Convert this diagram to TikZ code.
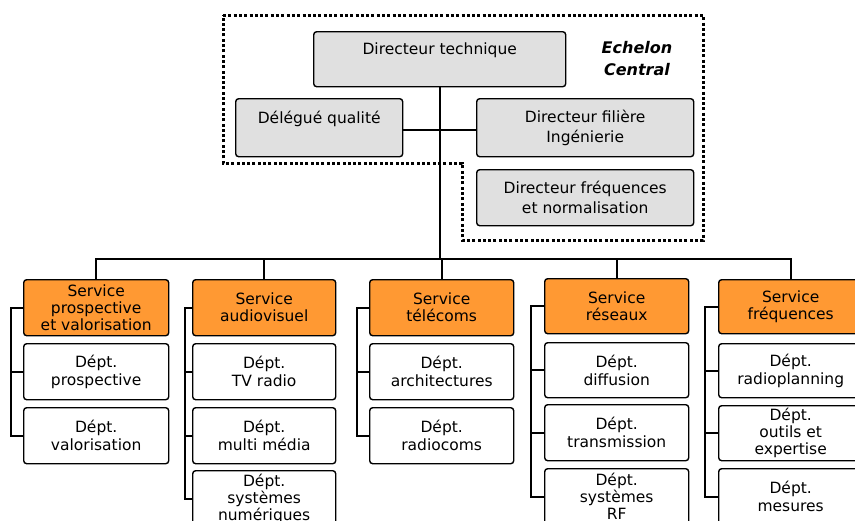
\documentclass[tikz,border=0pt]{standalone}
\usepackage{fontspec}
\setmainfont{DejaVu Sans}
\definecolor{svcorange}{RGB}{255,153,51}
\definecolor{dirgray}{RGB}{224,224,224}
\tikzset{
  x=1pt, y=-1pt,
  basebox/.style={draw=black, line width=1.4pt, rounded corners=3pt, align=center,
    font=\fontsize{15.5}{18}\selectfont, inner sep=0pt, anchor=north west},
  dirbox/.style={basebox, fill=dirgray},
  svcbox/.style={basebox, fill=svcorange, minimum width=145pt, minimum height=56pt},
  deptbox/.style={basebox, fill=white, minimum width=145pt, minimum height=56pt},
  link/.style={draw=black, line width=2pt},
  frame/.style={draw=black, line width=3pt, dash pattern=on 3pt off 2.3pt}
}
\begin{document}
\begin{tikzpicture}
\useasboundingbox (0,0) rectangle (855,520);
\clip (0,0) rectangle (855,520);
% frame
\draw[frame] (223,15) -- (703,15) -- (703,240) -- (462,240) -- (462,163) -- (223,163) -- cycle;
\node[font=\fontsize{16}{22}\selectfont\bfseries\itshape, align=center] (echelon) at (637,59) {Echelon\\Central};
% top level
\node[dirbox, minimum width=252pt, minimum height=55pt] (dt) at (313,31) {Directeur technique\\[4pt]\phantom{X}};
\node[dirbox, minimum width=167pt, minimum height=58pt] (dq) at (235,98) {Délégué qualité\\[2pt]\phantom{X}};
\node[dirbox, minimum width=217pt, minimum height=58pt] (df) at (476,98) {Directeur filière\\[2pt]Ingénierie};
\node[dirbox, minimum width=217pt, minimum height=56pt] (dfr) at (476,169) {Directeur fréquences\\[2pt]et normalisation};
% services
\node[svcbox] (s1) at (23,279) {Service\\[-1pt]prospective\\[-1pt]et valorisation};
\node[svcbox, minimum width=143pt] (s2) at (192,279) {Service\\[-1pt]audiovisuel};
\node[svcbox, minimum width=144pt] (s3) at (369,279) {Service\\[-1pt]télécoms};
\node[svcbox, minimum width=144pt, minimum height=55pt] (s4) at (544,278) {Service\\[-1pt]réseaux};
\node[svcbox, minimum width=144pt, minimum height=54pt] (s5) at (718,279) {Service\\[-1pt]fréquences};
% departments col 1
\node[deptbox] (d11) at (23,343) {Dépt.\\prospective};
\node[deptbox] (d12) at (23,407) {Dépt.\\valorisation};
% col 2
\node[deptbox, minimum width=143pt] (d21) at (192,343) {Dépt.\\TV radio};
\node[deptbox, minimum width=143pt] (d22) at (192,407) {Dépt.\\multi média};
\node[deptbox, minimum width=143pt] (d23) at (192,470) {Dépt.\\[-1pt]systèmes\\[-1pt]numériques};
% col 3
\node[deptbox, minimum width=144pt] (d31) at (369,343) {Dépt.\\architectures};
\node[deptbox, minimum width=144pt] (d32) at (369,407) {Dépt.\\radiocoms};
% col 4
\node[deptbox, minimum width=144pt, minimum height=55pt] (d41) at (544,342) {Dépt.\\diffusion};
\node[deptbox, minimum width=144pt] (d42) at (544,404) {Dépt.\\transmission};
\node[deptbox, minimum width=144pt] (d43) at (544,468) {Dépt.\\[-1pt]systèmes\\[-1pt]RF};
% col 5
\node[deptbox, minimum width=144pt, minimum height=54pt] (d51) at (718,343) {Dépt.\\radioplanning};
\node[deptbox, minimum width=144pt, minimum height=55pt] (d52) at (718,405) {Dépt.\\[-1pt]outils et\\[-1pt]expertise};
\node[deptbox, minimum width=144pt] (d53) at (718,468) {Dépt.\\mesures};
% connectors top
\coordinate (bus) at (439,259);
\draw[link] (dt.south) -- (dt.south |- bus);
\draw[link] (dq.east |- 0,130) -- (df.west |- 0,130);
\draw[link] (s1.north) -- (s1.north |- bus) -- (s5.north |- bus) -- (s5.north);
\draw[link] (s2.north) -- (s2.north |- bus);
\draw[link] (s3.north) -- (s3.north |- bus);
\draw[link] (s4.north) -- (s4.north |- bus);
% brackets
\draw[link] (s1.west) -- ++(-12,0) |- (d12.west);
\draw[link] (d11.west) -- ++(-12,0);
\draw[link] (s2.west) -- ++(-7,0) |- (d23.west);
\draw[link] (d21.west) -- ++(-7,0);
\draw[link] (d22.west) -- ++(-7,0);
\draw[link] (s3.west) -- ++(-12,0) |- (d32.west);
\draw[link] (d31.west) -- ++(-12,0);
\draw[link] (s4.west) -- ++(-13,0) |- (d43.west);
\draw[link] (d41.west) -- ++(-13,0);
\draw[link] (d42.west) -- ++(-13,0);
\draw[link] (s5.west) -- ++(-13,0) |- (d53.west);
\draw[link] (d51.west) -- ++(-13,0);
\draw[link] (d52.west) -- ++(-13,0);
\end{tikzpicture}
\end{document}
